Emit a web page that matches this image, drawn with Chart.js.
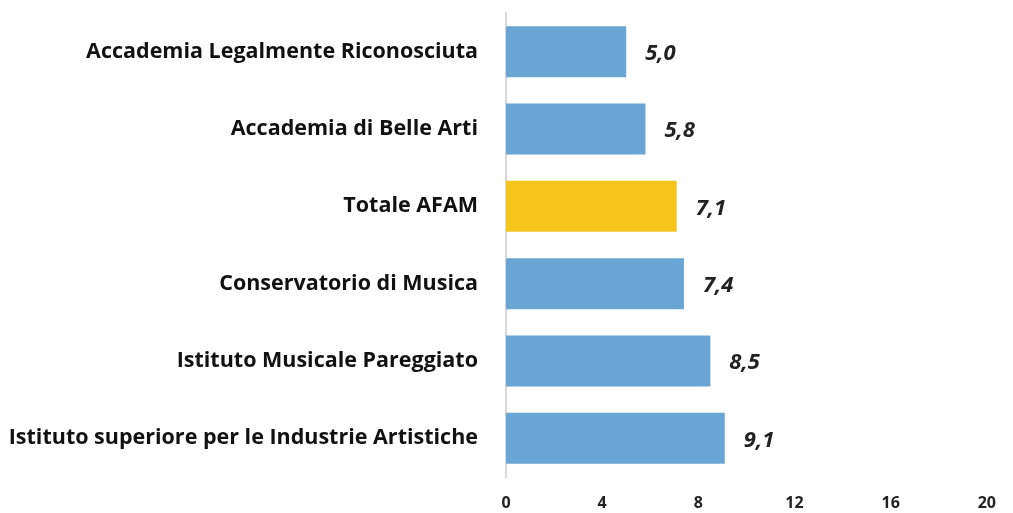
<!DOCTYPE html>
<html>
<head>
<meta charset="utf-8">
<script src="https://cdn.jsdelivr.net/npm/chart.js@4/dist/chart.umd.min.js"></script>
<style>
  html, body { margin: 0; padding: 0; background: #fff; }
  #wrap { width: 1013px; height: 513px; }
</style>
</head>
<body>
<div id="wrap"><canvas id="barChart"></canvas></div>
<script>
var categories = [
  'Accademia Legalmente Riconosciuta',
  'Accademia di Belle Arti',
  'Totale AFAM',
  'Conservatorio di Musica',
  'Istituto Musicale Pareggiato',
  'Istituto superiore per le Industrie Artistiche'
];
var values = [5.0, 5.8, 7.1, 7.4, 8.5, 9.1];
var xTicks = [0, 4, 8, 12, 16, 20];

var barColors = categories.map(function(c){
  return c == 'Totale AFAM' ? '#f5c51c' : '#69a6d5';
});

// value labels to the right of each bar
var valueLabels = {
  id: 'valueLabels',
  afterDatasetsDraw: function(chart){
    var ctx = chart.ctx;
    var meta = chart.getDatasetMeta(0);
    ctx.save();
    ctx.font = 'italic bold 22px "Open Sans"';
    ctx.fillStyle = '#222';
    ctx.textAlign = 'left';
    ctx.textBaseline = 'middle';
    meta.data.forEach(function(bar, i){
      ctx.fillText(values[i].toFixed(1).replace('.', ','), bar.x + 19, bar.y + 2);
    });
    ctx.restore();
  }
};

var ctx = document.getElementById('barChart').getContext('2d');
new Chart(ctx, {
  type: 'bar',
  data: {
    labels: categories,
    datasets: [{
      data: values,
      backgroundColor: barColors,
      borderWidth: 0,
      categoryPercentage: 0.66,
      barPercentage: 1
    }]
  },
  options: {
    indexAxis: 'y',
    responsive: true,
    maintainAspectRatio: false,
    animation: false,
    layout: { padding: { top: 13, right: 16, left: 0, bottom: 0 } },
    plugins: {
      legend: { display: false },
      tooltip: { enabled: false }
    },
    scales: {
      x: {
        min: 0,
        max: 20,
        afterBuildTicks: function(scale){
          scale.ticks = xTicks.map(function(v){ return { value: v }; });
        },
        afterFit: function(scale){ scale.height = 36; },
        grid: { display: false, drawTicks: false },
        border: { display: false },
        ticks: {
          color: '#222',
          padding: 17,
          font: { family: 'Open Sans', size: 16, weight: 'bold' }
        }
      },
      y: {
        afterFit: function(scale){
          scale.width = 506;
          scale.paddingTop = 0;
          scale.paddingBottom = 0;
        },
        grid: { display: false, drawTicks: false },
        border: { display: true, color: '#d9d9d9', width: 2 },
        ticks: {
          color: '#111',
          padding: 28,
          font: { family: 'Open Sans', size: 21.5, weight: 'bold' }
        }
      }
    }
  },
  plugins: [valueLabels]
});
</script>
</body>
</html>
